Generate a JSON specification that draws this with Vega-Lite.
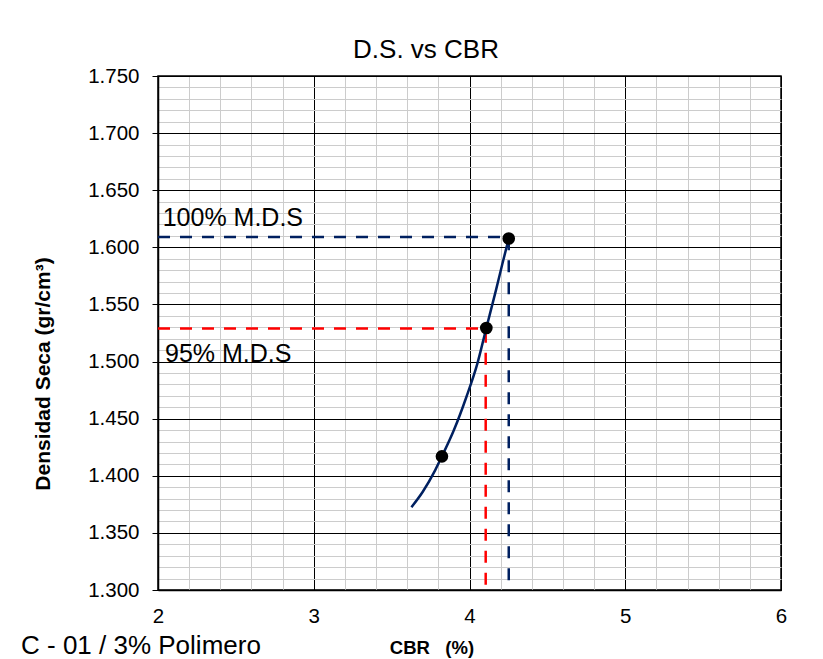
{
  "$schema": "https://vega.github.io/schema/vega-lite/v6.json",
  "width": 623,
  "height": 514,
  "autosize": {"type": "none"},
  "padding": {"left": 158, "top": 76, "right": 42, "bottom": 69},
  "background": "white",
  "config": {
    "font": "Liberation Sans",
    "view": {"stroke": "black", "strokeWidth": 1.5},
    "axis": {"labelColor": "black", "titleColor": "black", "labelFont": "Liberation Sans", "titleFont": "Liberation Sans"}
  },
  "datasets": {
    "refs": [
      {"s": "100", "i": 1, "x": 2, "y": 1.609},
      {"s": "100", "i": 2, "x": 4.252, "y": 1.609},
      {"s": "100", "i": 3, "x": 4.252, "y": 1.3},
      {"s": "95", "i": 1, "x": 2, "y": 1.529},
      {"s": "95", "i": 2, "x": 4.104, "y": 1.529},
      {"s": "95", "i": 3, "x": 4.104, "y": 1.3}
    ],
    "curve": [
      {"x": 3.627, "y": 1.3725},
      {"x": 3.70, "y": 1.386},
      {"x": 3.78, "y": 1.405},
      {"x": 3.823, "y": 1.417},
      {"x": 3.90, "y": 1.440},
      {"x": 3.98, "y": 1.469},
      {"x": 4.05, "y": 1.498},
      {"x": 4.108, "y": 1.5294},
      {"x": 4.17, "y": 1.5625},
      {"x": 4.21, "y": 1.585},
      {"x": 4.252, "y": 1.6077}
    ],
    "points": [
      {"x": 3.823, "y": 1.417},
      {"x": 4.108, "y": 1.5294},
      {"x": 4.252, "y": 1.6077}
    ],
    "labels": [
      {"t": "100% M.D.S", "x": 2.03, "y": 1.619},
      {"t": "95% M.D.S", "x": 2.045, "y": 1.4995}
    ]
  },
  "resolve": {"axis": {"x": "independent"}},
  "encoding": {
    "y": {
      "field": "y", "type": "quantitative",
      "scale": {"domain": [1.3, 1.75], "nice": false, "zero": false},
      "axis": {
        "values": [1.3, 1.31, 1.32, 1.33, 1.34, 1.35, 1.36, 1.37, 1.38, 1.39, 1.4, 1.41, 1.42, 1.43, 1.44, 1.45, 1.46, 1.47, 1.48, 1.49, 1.5, 1.51, 1.52, 1.53, 1.54, 1.55, 1.56, 1.57, 1.58, 1.59, 1.6, 1.61, 1.62, 1.63, 1.64, 1.65, 1.66, 1.67, 1.68, 1.69, 1.7, 1.71, 1.72, 1.73, 1.74, 1.75],
        "grid": true,
        "gridColor": {"condition": {"test": "abs(datum.value * 20 - round(datum.value * 20)) < 0.001", "value": "black"}, "value": "#cccccc"},
        "gridWidth": 1,
        "tickSize": 6,
        "tickColor": "black",
        "tickOpacity": {"condition": {"test": "abs(datum.value * 20 - round(datum.value * 20)) < 0.001", "value": 1}, "value": 0},
        "labelExpr": "abs(datum.value * 20 - round(datum.value * 20)) < 0.001 ? format(datum.value, '.3f') : ''",
        "labelFontSize": 20.5,
        "labelPadding": 13,
        "labelFlush": false,
        "labelOverlap": false,
        "domainColor": "black",
        "domainWidth": 1.5,
        "title": "Densidad Seca (gr/cm³)",
        "titleFontSize": 21,
        "titleFontWeight": "bold",
        "titleAngle": -90,
        "titleX": -108.7,
        "titleY": 297.5,
        "titleAlign": "center",
        "titleBaseline": "alphabetic"
      }
    }
  },
  "layer": [
    {
      "data": {"name": "refs"},
      "mark": {"type": "line", "strokeWidth": 2.5, "strokeDash": [12, 10]},
      "encoding": {
        "x": {
          "field": "x", "type": "quantitative",
          "scale": {"domain": [2, 6], "nice": false, "zero": false},
          "axis": {
            "orient": "bottom",
            "values": [2, 2.2, 2.4, 2.6, 2.8, 3, 3.2, 3.4, 3.6, 3.8, 4, 4.2, 4.4, 4.6, 4.8, 5, 5.2, 5.4, 5.6, 5.8, 6],
            "grid": true,
            "gridColor": {"condition": {"test": "abs(datum.value - round(datum.value)) < 0.001", "value": "black"}, "value": "#cccccc"},
            "gridWidth": 1,
            "ticks": false,
            "tickSize": 0,
            "labelExpr": "abs(datum.value - round(datum.value)) < 0.001 ? format(datum.value, 'd') : ''",
            "labelFontSize": 20.5,
            "labelPadding": 16,
            "labelFlush": false,
            "labelOverlap": false,
            "domainColor": "black",
            "domainWidth": 1.5,
            "title": "CBR\u00a0\u00a0\u00a0(%)",
            "titleFontSize": 18.5,
            "titleFontWeight": "bold",
            "titleX": 273.5,
            "titleY": 63.3,
            "titleAlign": "center",
            "titleBaseline": "alphabetic"
          }
        },
        "color": {"field": "s", "type": "nominal", "scale": {"domain": ["100", "95"], "range": ["#002060", "#ff0000"]}, "legend": null},
        "order": {"field": "i", "type": "quantitative"}
      }
    },
    {
      "data": {"name": "curve"},
      "mark": {"type": "line", "color": "#002060", "strokeWidth": 2.5, "interpolate": "monotone"},
      "encoding": {
        "x": {
          "field": "x", "type": "quantitative",
          "scale": {"domain": [2, 6], "nice": false, "zero": false},
          "axis": {
            "orient": "bottom",
            "grid": false,
            "ticks": false,
            "labels": false,
            "domain": false,
            "title": "C - 01 / 3% Polimero",
            "titleFontSize": 26,
            "titleFontWeight": "normal",
            "titleX": -137.5,
            "titleY": 63.5,
            "titleAlign": "left",
            "titleBaseline": "alphabetic"
          }
        }
      }
    },
    {
      "data": {"name": "points"},
      "mark": {"type": "point", "filled": true, "color": "black", "size": 160, "opacity": 1},
      "encoding": {
        "x": {
          "field": "x", "type": "quantitative",
          "scale": {"domain": [2, 6], "nice": false, "zero": false},
          "axis": {
            "orient": "top",
            "grid": false,
            "ticks": false,
            "labels": false,
            "domain": false,
            "title": "D.S. vs CBR",
            "titleFontSize": 26,
            "titleFontWeight": "normal",
            "titleX": 267.5,
            "titleY": -19,
            "titleAlign": "center",
            "titleBaseline": "alphabetic"
          }
        }
      }
    },
    {
      "data": {"name": "labels"},
      "mark": {"type": "text", "fontSize": 25, "font": "Liberation Sans", "align": "left", "baseline": "alphabetic", "color": "black"},
      "encoding": {
        "x": {"field": "x", "type": "quantitative", "scale": {"domain": [2, 6], "nice": false, "zero": false}, "axis": null},
        "text": {"field": "t"}
      }
    }
  ]
}
